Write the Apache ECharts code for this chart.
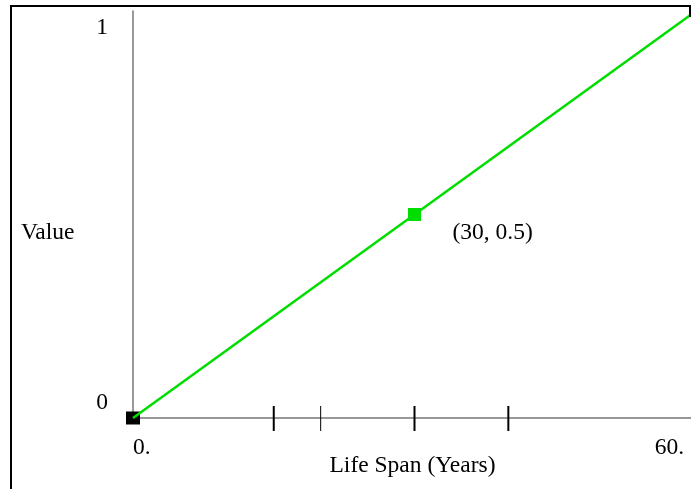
<!DOCTYPE html>
<html>
<head>
<meta charset="utf-8">
<script src="https://cdn.jsdelivr.net/npm/echarts@6/dist/echarts.min.js"></script>
<style>
  html, body { margin: 0; padding: 0; background: #fff; overflow: hidden; }
  #chart { width: 700px; height: 489px; }
</style>
</head>
<body>
<div id="chart"></div>
<script>
// Straight-line value curve over the life span
const lifeYears = [0, 30, 60];
const lineValues = [0, 0.5, 1];
const highlightPoint = [30, 0.5];
const highlightLabel = '(30, 0.5)';
const xTickValues = [15, 20, 30, 40];
const xTickWidths = [2, 1, 2, 2];
const xLabelValues = [0, 60];
const xLabelTexts = ['0.', '60.'];
const yLabelValues = [0, 1];
const yLabelTexts = ['0', '1'];
const xAxisTitle = 'Life Span (Years)';
const yAxisTitle = 'Value';

const FONT = '"Liberation Serif", "Times New Roman", serif';
const GREEN = '#00dd00';

const chart = echarts.init(document.getElementById('chart'), null, { renderer: 'canvas' });

chart.setOption({
  animation: false,
  backgroundColor: '#fff',
  grid: { left: 133, top: 11, width: 563, height: 407, containLabel: false },
  xAxis: {
    type: 'value', min: 0, max: 60,
    axisLine: { show: true, lineStyle: { color: '#777', width: 1.5 } },
    axisTick: { show: false }, axisLabel: { show: false }, splitLine: { show: false }
  },
  yAxis: {
    type: 'value', min: 0, max: 1,
    axisLine: { show: true, lineStyle: { color: '#777', width: 1.5 } },
    axisTick: { show: false }, axisLabel: { show: false }, splitLine: { show: false }
  },
  series: [
    {
      // tick marks crossing the horizontal axis
      type: 'custom',
      data: xTickValues.map((v, i) => [v, xTickWidths[i]]),
      clip: false,
      silent: true,
      renderItem: function (params, api) {
        const p = api.coord([api.value(0), 0]);
        return {
          type: 'line',
          shape: { x1: p[0], y1: p[1] - 12, x2: p[0], y2: p[1] + 13 },
          style: { stroke: '#000', lineWidth: api.value(1) }
        };
      }
    },
    {
      type: 'line',
      data: lifeYears.map((x, i) => [x, lineValues[i]]),
      showSymbol: false,
      lineStyle: { color: GREEN, width: 2.5 },
      z: 3
    },
    {
      type: 'scatter',
      data: [highlightPoint],
      symbol: 'rect',
      symbolSize: 13,
      itemStyle: { color: GREEN, opacity: 1 },
      z: 4
    },
    {
      type: 'scatter',
      data: [[lifeYears[0], lineValues[0]]],
      symbol: 'rect',
      symbolSize: [14, 13],
      itemStyle: { color: '#000', opacity: 1 },
      z: 2
    }
  ]
});

function px(x, y) { return chart.convertToPixel({ gridIndex: 0 }, [x, y]); }

const textStyle = (extra) => Object.assign({
  fill: '#000', font: '23.5px ' + FONT, textVerticalAlign: 'middle'
}, extra);

const graphics = [
  // frame
  { type: 'polyline', shape: { points: [[11, 489], [11, 6], [690, 6], [690, 17]] },
    style: { stroke: '#000', lineWidth: 2, fill: null }, z: 10 },
  // blank strip beyond the frame
  { type: 'rect', shape: { x: 691, y: 0, width: 20, height: 489 },
    style: { fill: '#fff' }, z: 9 }
];

xLabelValues.forEach((v, i) => {
  const p = px(v, 0);
  const last = i === xLabelValues.length - 1;
  graphics.push({
    type: 'text', x: last ? p[0] - 12 : p[0], y: p[1] + 30,
    style: textStyle({ text: xLabelTexts[i], textAlign: last ? 'right' : 'left' })
  });
});

yLabelValues.forEach((v, i) => {
  const p = px(0, v);
  graphics.push({
    type: 'text', x: p[0] - 25, y: v === 0 ? p[1] - 15 : p[1] + 17,
    style: textStyle({ text: yLabelTexts[i], textAlign: 'right' })
  });
});

const hp = px(highlightPoint[0], highlightPoint[1]);
graphics.push({
  type: 'text', x: hp[0] + 38, y: hp[1] + 18,
  style: textStyle({ text: highlightLabel, textAlign: 'left' })
});

const mid = px(30, 0);
graphics.push({
  type: 'text', x: mid[0] - 2, y: mid[1] + 48,
  style: textStyle({ text: xAxisTitle, textAlign: 'center' })
});
const ymid = px(0, 0.5);
graphics.push({
  type: 'text', x: 21, y: ymid[1] + 18,
  style: textStyle({ text: yAxisTitle, textAlign: 'left' })
});

chart.setOption({ graphic: graphics });
</script>
</body>
</html>
